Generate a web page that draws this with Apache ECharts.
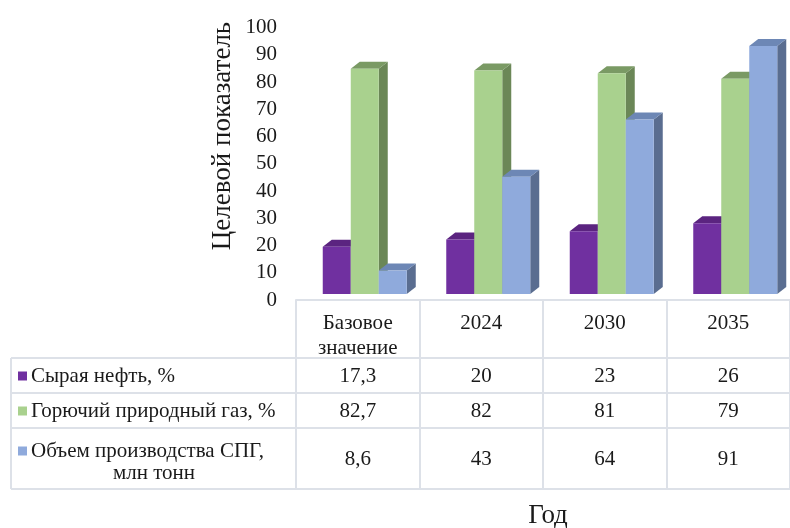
<!DOCTYPE html>
<html><head><meta charset="utf-8">
<script src="https://cdn.jsdelivr.net/npm/echarts@6/dist/echarts.min.js"></script>
<style>html,body{margin:0;padding:0;background:#fff}#c{width:790px;height:528px}</style>
</head><body><div id="c"></div>
<script>
const categories = ['Базовое\nзначение', '2024', '2030', '2035'];
const seriesNames = ['Сырая нефть, %', 'Горючий природный газ, %', 'Объем производства СПГ,', 'млн тонн'];
const crudeOil = [17.3, 20, 23, 26];
const naturalGas = [82.7, 82, 81, 79];
const lngVolume = [8.6, 43, 64, 91];
const yAxisTitle = 'Целевой показатель';
const xAxisTitle = 'Год';

const FONT = '"Liberation Serif", "Times New Roman", serif';
const TXT = '#1a1a1a';
const LINE = '#dde1e8';
const faces = [
  { front: '#7030A0', top: '#5B2480', side: '#4E1F70' },
  { front: '#A9D18E', top: '#7A9A64', side: '#6B8757' },
  { front: '#8FAADC', top: '#6D87B5', side: '#5A6D90' }
];
const BW = 28, DX = 9, DY = 7, LIFT = 6, SHIFT = 7;

function makeRender(si) {
  return function (params, api) {
    const cat = api.value(0), val = api.value(1);
    const p0 = api.coord([cat, 0]);
    const p1 = api.coord([cat, val]);
    const l = p0[0] + SHIFT - 1.5 * BW + si * BW;
    const r = l + BW;
    const yb = p0[1] - LIFT, yt = p1[1] - LIFT;
    const f = faces[si];
    return {
      type: 'group',
      children: [
        { type: 'polygon', shape: { points: [[r, yt], [r + DX, yt - DY], [r + DX, yb - DY], [r, yb]] }, style: { fill: f.side } },
        { type: 'polygon', shape: { points: [[l, yt], [l + DX, yt - DY], [r + DX, yt - DY], [r, yt]] }, style: { fill: f.top } },
        { type: 'rect', shape: { x: l, y: yt, width: BW, height: yb - yt }, style: { fill: f.front } }
      ]
    };
  };
}

const allSeries = [crudeOil, naturalGas, lngVolume];
const chart = echarts.init(document.getElementById('c'));
chart.setOption({
  animation: false,
  backgroundColor: '#fff',
  grid: { left: 296, width: 502, top: 27.5, bottom: 228 },
  xAxis: {
    type: 'category', data: categories,
    axisLine: { lineStyle: { color: LINE, width: 2 } },
    axisTick: { show: true, length: 190, lineStyle: { color: LINE, width: 2 } },
    axisLabel: { interval: 0, margin: 11, verticalAlign: 'top', fontFamily: FONT, fontSize: 21, color: TXT, lineHeight: 25 }
  },
  yAxis: {
    type: 'value', min: 0, max: 100, interval: 10,
    axisLine: { show: false }, axisTick: { show: false }, splitLine: { show: false },
    axisLabel: { margin: 19, fontFamily: FONT, fontSize: 21, color: TXT }
  },
  series: allSeries.map((arr, si) => ({
    type: 'custom',
    renderItem: makeRender(si),
    data: arr.map((v, i) => [i, v]),
    encode: { x: 0, y: 1 }
  }))
});

// data table
const rowMid = [376, 411, 459];
const hLines = [358, 393, 428, 489];
const g = [];
hLines.forEach(y => g.push({ type: 'line', shape: { x1: 11, y1: y, x2: 800, y2: y }, style: { stroke: LINE, lineWidth: 2 } }));
g.push({ type: 'line', shape: { x1: 11, y1: 358, x2: 11, y2: 489 }, style: { stroke: LINE, lineWidth: 2 } });
const textStyle = (extra) => Object.assign({ font: '21px ' + FONT, fill: TXT, textVerticalAlign: 'middle' }, extra);
// row labels with legend keys
g.push({ type: 'rect', shape: { x: 18, y: rowMid[0] - 4.5, width: 9, height: 9 }, style: { fill: faces[0].front } });
g.push({ type: 'text', style: textStyle({ x: 31, y: rowMid[0], text: seriesNames[0], textAlign: 'left' }) });
g.push({ type: 'rect', shape: { x: 18, y: rowMid[1] - 4.5, width: 9, height: 9 }, style: { fill: faces[1].front } });
g.push({ type: 'text', style: textStyle({ x: 31, y: rowMid[1], text: seriesNames[1], textAlign: 'left' }) });
g.push({ type: 'rect', shape: { x: 18, y: 451 - 4.5, width: 9, height: 9 }, style: { fill: faces[2].front } });
g.push({ type: 'text', style: textStyle({ x: 31, y: 451, text: seriesNames[2], textAlign: 'left' }) });
g.push({ type: 'text', style: textStyle({ x: 154, y: 473, text: seriesNames[3], textAlign: 'center' }) });
allSeries.forEach((arr, si) => {
  arr.forEach((v, i) => {
    const x = chart.convertToPixel({ xAxisIndex: 0 }, i);
    g.push({ type: 'text', style: textStyle({ x: x, y: rowMid[si], text: String(v).replace('.', ','), textAlign: 'center' }) });
  });
});
g.push({ type: 'text', rotation: Math.PI / 2, x: 223, y: 136, style: { text: yAxisTitle, font: '27px ' + FONT, fill: TXT, textAlign: 'center', textVerticalAlign: 'middle' } });
g.push({ type: 'text', style: textStyle({ x: 548, y: 516, text: xAxisTitle, textAlign: 'center', font: '27px ' + FONT }) });
chart.setOption({ graphic: g });
</script></body></html>
